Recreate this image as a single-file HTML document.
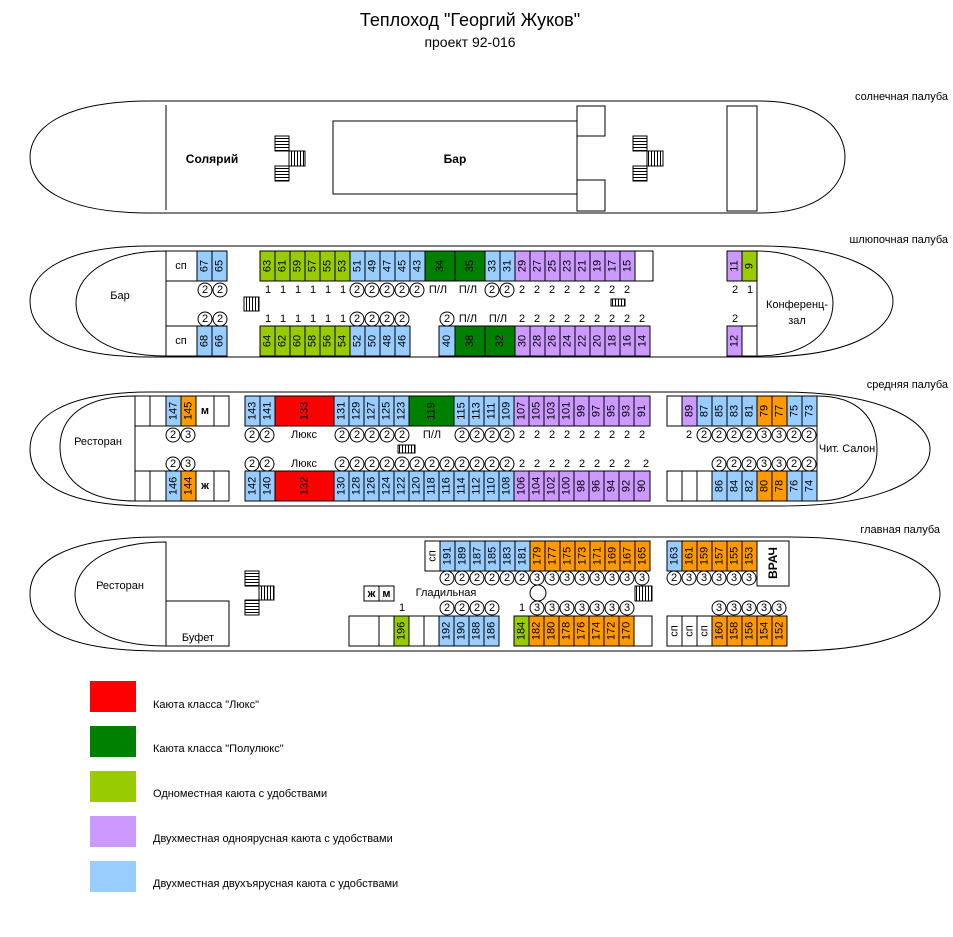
<!DOCTYPE html>
<html><head><meta charset="utf-8">
<style>
html,body{margin:0;padding:0;background:#fff;}
svg{display:block;font-family:"Liberation Sans",Arial,sans-serif;}
text{font-size:11px;text-anchor:middle;dominant-baseline:central;fill:#000;}
rect{stroke:#000;stroke-width:1;}
.b{fill:#99ccff}.p{fill:#cc99ff}.o{fill:#ff9900}.g{fill:#99cc00}.dg{fill:#008000}.r{fill:#ff0000}.w{fill:#fff}
.nl{stroke:none}
circle{fill:#fff;stroke:#000;stroke-width:1}
path,line{fill:none;stroke:#000;stroke-width:1}
.lt{text-anchor:end}
.bd{font-weight:bold}
</style></head><body>
<svg width="953" height="937" viewBox="0 0 953 937" xmlns="http://www.w3.org/2000/svg">
<defs>
<pattern id="hl" width="4" height="3" patternUnits="userSpaceOnUse"><line x1="0" y1="0.5" x2="4" y2="0.5"/></pattern>
<pattern id="vl" width="3" height="4" patternUnits="userSpaceOnUse"><line x1="0.5" y1="0" x2="0.5" y2="4"/></pattern>
</defs>
<rect x="0" y="0" width="953" height="937" fill="#fff" style="stroke:none"/>
<text x="470" y="20" style="font-size:18px">Теплоход "Георгий Жуков"</text>
<text x="470" y="42" style="font-size:14px">проект 92-016</text>

<text class="lt" x="948" y="97">солнечная палуба</text>
<text class="lt" x="948" y="240">шлюпочная палуба</text>
<text class="lt" x="948" y="385">средняя палуба</text>
<text class="lt" x="940" y="530">главная палуба</text>

<!-- SUN DECK -->
<path d="M150,101 L760,101 C820,101 845,130 845,157 C845,185 820,213 760,213 L150,213 C60,213 30,185 30,157 C30,130 60,101 150,101 Z"/>
<line x1="166" y1="105" x2="166" y2="210"/>
<rect class="w" x="333" y="121" width="244" height="73"/>
<rect class="w" x="577" y="106" width="28" height="30"/>
<rect class="w" x="577" y="180" width="28" height="31"/>
<line x1="577" y1="106" x2="577" y2="211"/>
<rect class="w" x="727" y="106" width="30" height="105"/>
<rect x="275" y="136" width="14" height="15" fill="url(#hl)"/>
<rect x="289" y="151" width="16" height="15" fill="url(#vl)"/>
<rect x="275" y="166" width="14" height="15" fill="url(#hl)"/>
<rect x="633" y="136" width="14" height="15" fill="url(#hl)"/>
<rect x="647" y="151" width="16" height="15" fill="url(#vl)"/>
<rect x="633" y="166" width="14" height="15" fill="url(#hl)"/>
<text x="212" y="159" class="bd" style="font-size:12px">Солярий</text>
<text x="455" y="159" class="bd" style="font-size:12px">Бар</text>

<!-- DECK 2 -->
<path d="M150,246 L760,246 C850,246 893,275 893,301 C893,330 850,357 760,357 L150,357 C60,357 30,330 30,301 C30,275 60,246 150,246 Z"/>
<path d="M166,251 C100,251 76,280 76,303 C76,328 100,356 166,356 Z"/>
<path d="M757,251 C810,251 833,280 833,303 C833,330 810,356 757,356"/>
<text x="120" y="296">Бар</text>
<text x="797" y="305">Конференц-</text>
<text x="797" y="321">зал</text>
<rect class="w" x="166" y="251" width="31" height="30"/><text x="181" y="266">сп</text>
<rect class="w" x="166" y="326" width="31" height="30"/><text x="181" y="341">сп</text>
<g>
<rect class="b" x="197" y="251" width="15" height="30"/><text transform="translate(204.5,266) rotate(-90)">67</text>
<rect class="b" x="212" y="251" width="15" height="30"/><text transform="translate(219.5,266) rotate(-90)">65</text>
<rect class="g" x="260" y="251" width="15" height="30"/><text transform="translate(267.5,266) rotate(-90)">63</text>
<rect class="g" x="275" y="251" width="15" height="30"/><text transform="translate(282.5,266) rotate(-90)">61</text>
<rect class="g" x="290" y="251" width="15" height="30"/><text transform="translate(297.5,266) rotate(-90)">59</text>
<rect class="g" x="305" y="251" width="15" height="30"/><text transform="translate(312.5,266) rotate(-90)">57</text>
<rect class="g" x="320" y="251" width="15" height="30"/><text transform="translate(327.5,266) rotate(-90)">55</text>
<rect class="g" x="335" y="251" width="15" height="30"/><text transform="translate(342.5,266) rotate(-90)">53</text>
<rect class="b" x="350" y="251" width="15" height="30"/><text transform="translate(357.5,266) rotate(-90)">51</text>
<rect class="b" x="365" y="251" width="15" height="30"/><text transform="translate(372.5,266) rotate(-90)">49</text>
<rect class="b" x="380" y="251" width="15" height="30"/><text transform="translate(387.5,266) rotate(-90)">47</text>
<rect class="b" x="395" y="251" width="15" height="30"/><text transform="translate(402.5,266) rotate(-90)">45</text>
<rect class="b" x="410" y="251" width="15" height="30"/><text transform="translate(417.5,266) rotate(-90)">43</text>
<rect class="dg" x="425" y="251" width="30" height="30"/><text transform="translate(440,266) rotate(-90)">34</text>
<rect class="dg" x="455" y="251" width="30" height="30"/><text transform="translate(470,266) rotate(-90)">35</text>
<rect class="b" x="485" y="251" width="15" height="30"/><text transform="translate(492.5,266) rotate(-90)">33</text>
<rect class="b" x="500" y="251" width="15" height="30"/><text transform="translate(507.5,266) rotate(-90)">31</text>
<rect class="p" x="515" y="251" width="15" height="30"/><text transform="translate(522.5,266) rotate(-90)">29</text>
<rect class="p" x="530" y="251" width="15" height="30"/><text transform="translate(537.5,266) rotate(-90)">27</text>
<rect class="p" x="545" y="251" width="15" height="30"/><text transform="translate(552.5,266) rotate(-90)">25</text>
<rect class="p" x="560" y="251" width="15" height="30"/><text transform="translate(567.5,266) rotate(-90)">23</text>
<rect class="p" x="575" y="251" width="15" height="30"/><text transform="translate(582.5,266) rotate(-90)">21</text>
<rect class="p" x="590" y="251" width="15" height="30"/><text transform="translate(597.5,266) rotate(-90)">19</text>
<rect class="p" x="605" y="251" width="15" height="30"/><text transform="translate(612.5,266) rotate(-90)">17</text>
<rect class="p" x="620" y="251" width="15" height="30"/><text transform="translate(627.5,266) rotate(-90)">15</text>
<rect class="w" x="635" y="251" width="18" height="30"/>
<rect class="p" x="727" y="251" width="15" height="30"/><text transform="translate(734.5,266) rotate(-90)">11</text>
<rect class="g" x="742" y="251" width="15" height="30"/><text transform="translate(749.5,266) rotate(-90)">9</text>

<rect class="b" x="197" y="326" width="15" height="30"/><text transform="translate(204.5,341) rotate(-90)">68</text>
<rect class="b" x="212" y="326" width="15" height="30"/><text transform="translate(219.5,341) rotate(-90)">66</text>
<rect class="g" x="260" y="326" width="15" height="30"/><text transform="translate(267.5,341) rotate(-90)">64</text>
<rect class="g" x="275" y="326" width="15" height="30"/><text transform="translate(282.5,341) rotate(-90)">62</text>
<rect class="g" x="290" y="326" width="15" height="30"/><text transform="translate(297.5,341) rotate(-90)">60</text>
<rect class="g" x="305" y="326" width="15" height="30"/><text transform="translate(312.5,341) rotate(-90)">58</text>
<rect class="g" x="320" y="326" width="15" height="30"/><text transform="translate(327.5,341) rotate(-90)">56</text>
<rect class="g" x="335" y="326" width="15" height="30"/><text transform="translate(342.5,341) rotate(-90)">54</text>
<rect class="b" x="350" y="326" width="15" height="30"/><text transform="translate(357.5,341) rotate(-90)">52</text>
<rect class="b" x="365" y="326" width="15" height="30"/><text transform="translate(372.5,341) rotate(-90)">50</text>
<rect class="b" x="380" y="326" width="15" height="30"/><text transform="translate(387.5,341) rotate(-90)">48</text>
<rect class="b" x="395" y="326" width="15" height="30"/><text transform="translate(402.5,341) rotate(-90)">46</text>
<rect class="b" x="439" y="326" width="16" height="30"/><text transform="translate(447,341) rotate(-90)">40</text>
<rect class="dg" x="455" y="326" width="30" height="30"/><text transform="translate(470,341) rotate(-90)">38</text>
<rect class="dg" x="485" y="326" width="30" height="30"/><text transform="translate(500,341) rotate(-90)">32</text>
<rect class="p" x="515" y="326" width="15" height="30"/><text transform="translate(522.5,341) rotate(-90)">30</text>
<rect class="p" x="530" y="326" width="15" height="30"/><text transform="translate(537.5,341) rotate(-90)">28</text>
<rect class="p" x="545" y="326" width="15" height="30"/><text transform="translate(552.5,341) rotate(-90)">26</text>
<rect class="p" x="560" y="326" width="15" height="30"/><text transform="translate(567.5,341) rotate(-90)">24</text>
<rect class="p" x="575" y="326" width="15" height="30"/><text transform="translate(582.5,341) rotate(-90)">22</text>
<rect class="p" x="590" y="326" width="15" height="30"/><text transform="translate(597.5,341) rotate(-90)">20</text>
<rect class="p" x="605" y="326" width="15" height="30"/><text transform="translate(612.5,341) rotate(-90)">18</text>
<rect class="p" x="620" y="326" width="15" height="30"/><text transform="translate(627.5,341) rotate(-90)">16</text>
<rect class="p" x="635" y="326" width="15" height="30"/><text transform="translate(642.5,341) rotate(-90)">14</text>
<rect class="p" x="727" y="326" width="15" height="30"/><text transform="translate(734.5,341) rotate(-90)">12</text>
<rect class="w" x="742" y="326" width="15" height="30"/>
</g>
<line x1="757" y1="251" x2="757" y2="356"/>
<g>
<circle cx="205" cy="290" r="7"/><text x="205" y="290">2</text>
<circle cx="220" cy="290" r="7"/><text x="220" y="290">2</text>
<text x="268" y="290">1</text><text x="283" y="290">1</text><text x="298" y="290">1</text><text x="313" y="290">1</text><text x="328" y="290">1</text><text x="343" y="290">1</text>
<circle cx="357" cy="290" r="7"/><text x="357" y="290">2</text>
<circle cx="372" cy="290" r="7"/><text x="372" y="290">2</text>
<circle cx="387" cy="290" r="7"/><text x="387" y="290">2</text>
<circle cx="402" cy="290" r="7"/><text x="402" y="290">2</text>
<circle cx="417" cy="290" r="7"/><text x="417" y="290">2</text>
<text x="438" y="290">П/Л</text><text x="468" y="290">П/Л</text>
<circle cx="492" cy="290" r="7"/><text x="492" y="290">2</text>
<circle cx="507" cy="290" r="7"/><text x="507" y="290">2</text>
<text x="522" y="290">2</text><text x="537" y="290">2</text><text x="552" y="290">2</text><text x="567" y="290">2</text><text x="582" y="290">2</text><text x="597" y="290">2</text><text x="612" y="290">2</text><text x="627" y="290">2</text>
<text x="735" y="290">2</text><text x="750" y="290">1</text>
<circle cx="205" cy="319" r="7"/><text x="205" y="319">2</text>
<circle cx="220" cy="319" r="7"/><text x="220" y="319">2</text>
<text x="268" y="319">1</text><text x="283" y="319">1</text><text x="298" y="319">1</text><text x="313" y="319">1</text><text x="328" y="319">1</text><text x="343" y="319">1</text>
<circle cx="357" cy="319" r="7"/><text x="357" y="319">2</text>
<circle cx="372" cy="319" r="7"/><text x="372" y="319">2</text>
<circle cx="387" cy="319" r="7"/><text x="387" y="319">2</text>
<circle cx="402" cy="319" r="7"/><text x="402" y="319">2</text>
<circle cx="447" cy="319" r="7"/><text x="447" y="319">2</text>
<text x="468" y="319">П/Л</text><text x="498" y="319">П/Л</text>
<text x="522" y="319">2</text><text x="537" y="319">2</text><text x="552" y="319">2</text><text x="567" y="319">2</text><text x="582" y="319">2</text><text x="597" y="319">2</text><text x="612" y="319">2</text><text x="627" y="319">2</text><text x="642" y="319">2</text>
<text x="735" y="319">2</text>
</g>
<rect x="244" y="297" width="15" height="14" fill="url(#vl)"/>
<rect x="611" y="299" width="14" height="7" fill="url(#vl)"/>

<!-- MIDDLE DECK -->
<path d="M150,392 L780,392 C880,392 930,420 930,449 C930,480 880,506 780,506 L150,506 C60,506 30,480 30,449 C30,420 60,392 150,392 Z"/>
<path d="M135,396 C80,396 60,420 60,447 C60,475 80,501 135,501 Z"/>
<path d="M817,396 C860,396 877,420 877,449 C877,478 860,501 817,501"/>
<text x="98" y="442">Ресторан</text>
<text x="847" y="449">Чит. Салон</text>
<g>
<rect class="w" x="135" y="396" width="15" height="30"/><rect class="w" x="150" y="396" width="16" height="30"/>
<rect class="b" x="166" y="396" width="15" height="30"/><text transform="translate(173.5,411) rotate(-90)">147</text>
<rect class="o" x="181" y="396" width="15" height="30"/><text transform="translate(188.5,411) rotate(-90)">145</text>
<rect class="w" x="196" y="396" width="18" height="30"/><text x="205" y="411" class="bd">м</text>
<rect class="w" x="214" y="396" width="15" height="30"/>
<rect class="w" x="135" y="471" width="15" height="30"/><rect class="w" x="150" y="471" width="16" height="30"/>
<rect class="b" x="166" y="471" width="15" height="30"/><text transform="translate(173.5,486) rotate(-90)">146</text>
<rect class="o" x="181" y="471" width="15" height="30"/><text transform="translate(188.5,486) rotate(-90)">144</text>
<rect class="w" x="196" y="471" width="18" height="30"/><text x="205" y="486" class="bd">ж</text>
<rect class="w" x="214" y="471" width="15" height="30"/>

<rect class="b" x="245" y="396" width="15" height="30"/><text transform="translate(252.5,411) rotate(-90)">143</text>
<rect class="b" x="260" y="396" width="15" height="30"/><text transform="translate(267.5,411) rotate(-90)">141</text>
<rect class="r" x="275" y="396" width="59" height="30"/><text transform="translate(304.5,411) rotate(-90)">133</text>
<rect class="b" x="334" y="396" width="15" height="30"/><text transform="translate(341.5,411) rotate(-90)">131</text>
<rect class="b" x="349" y="396" width="15" height="30"/><text transform="translate(356.5,411) rotate(-90)">129</text>
<rect class="b" x="364" y="396" width="15" height="30"/><text transform="translate(371.5,411) rotate(-90)">127</text>
<rect class="b" x="379" y="396" width="15" height="30"/><text transform="translate(386.5,411) rotate(-90)">125</text>
<rect class="b" x="394" y="396" width="15" height="30"/><text transform="translate(401.5,411) rotate(-90)">123</text>
<rect class="dg" x="409" y="396" width="45" height="30"/><text transform="translate(431.5,411) rotate(-90)">119</text>
<rect class="b" x="454" y="396" width="15" height="30"/><text transform="translate(461.5,411) rotate(-90)">115</text>
<rect class="b" x="469" y="396" width="15" height="30"/><text transform="translate(476.5,411) rotate(-90)">113</text>
<rect class="b" x="484" y="396" width="15" height="30"/><text transform="translate(491.5,411) rotate(-90)">111</text>
<rect class="b" x="499" y="396" width="15" height="30"/><text transform="translate(506.5,411) rotate(-90)">109</text>
<rect class="p" x="514" y="396" width="15" height="30"/><text transform="translate(521.5,411) rotate(-90)">107</text>
<rect class="p" x="529" y="396" width="15" height="30"/><text transform="translate(536.5,411) rotate(-90)">105</text>
<rect class="p" x="544" y="396" width="15" height="30"/><text transform="translate(551.5,411) rotate(-90)">103</text>
<rect class="p" x="559" y="396" width="15" height="30"/><text transform="translate(566.5,411) rotate(-90)">101</text>
<rect class="p" x="574" y="396" width="15" height="30"/><text transform="translate(581.5,411) rotate(-90)">99</text>
<rect class="p" x="589" y="396" width="15" height="30"/><text transform="translate(596.5,411) rotate(-90)">97</text>
<rect class="p" x="604" y="396" width="15" height="30"/><text transform="translate(611.5,411) rotate(-90)">95</text>
<rect class="p" x="619" y="396" width="15" height="30"/><text transform="translate(626.5,411) rotate(-90)">93</text>
<rect class="p" x="634" y="396" width="16" height="30"/><text transform="translate(642,411) rotate(-90)">91</text>

<rect class="b" x="245" y="471" width="15" height="30"/><text transform="translate(252.5,486) rotate(-90)">142</text>
<rect class="b" x="260" y="471" width="15" height="30"/><text transform="translate(267.5,486) rotate(-90)">140</text>
<rect class="r" x="275" y="471" width="59" height="30"/><text transform="translate(304.5,486) rotate(-90)">132</text>
<rect class="b" x="334" y="471" width="15" height="30"/><text transform="translate(341.5,486) rotate(-90)">130</text>
<rect class="b" x="349" y="471" width="15" height="30"/><text transform="translate(356.5,486) rotate(-90)">128</text>
<rect class="b" x="364" y="471" width="15" height="30"/><text transform="translate(371.5,486) rotate(-90)">126</text>
<rect class="b" x="379" y="471" width="15" height="30"/><text transform="translate(386.5,486) rotate(-90)">124</text>
<rect class="b" x="394" y="471" width="15" height="30"/><text transform="translate(401.5,486) rotate(-90)">122</text>
<rect class="b" x="409" y="471" width="15" height="30"/><text transform="translate(416.5,486) rotate(-90)">120</text>
<rect class="b" x="424" y="471" width="15" height="30"/><text transform="translate(431.5,486) rotate(-90)">118</text>
<rect class="b" x="439" y="471" width="15" height="30"/><text transform="translate(446.5,486) rotate(-90)">116</text>
<rect class="b" x="454" y="471" width="15" height="30"/><text transform="translate(461.5,486) rotate(-90)">114</text>
<rect class="b" x="469" y="471" width="15" height="30"/><text transform="translate(476.5,486) rotate(-90)">112</text>
<rect class="b" x="484" y="471" width="15" height="30"/><text transform="translate(491.5,486) rotate(-90)">110</text>
<rect class="b" x="499" y="471" width="15" height="30"/><text transform="translate(506.5,486) rotate(-90)">108</text>
<rect class="p" x="514" y="471" width="15" height="30"/><text transform="translate(521.5,486) rotate(-90)">106</text>
<rect class="p" x="529" y="471" width="15" height="30"/><text transform="translate(536.5,486) rotate(-90)">104</text>
<rect class="p" x="544" y="471" width="15" height="30"/><text transform="translate(551.5,486) rotate(-90)">102</text>
<rect class="p" x="559" y="471" width="15" height="30"/><text transform="translate(566.5,486) rotate(-90)">100</text>
<rect class="p" x="574" y="471" width="15" height="30"/><text transform="translate(581.5,486) rotate(-90)">98</text>
<rect class="p" x="589" y="471" width="15" height="30"/><text transform="translate(596.5,486) rotate(-90)">96</text>
<rect class="p" x="604" y="471" width="15" height="30"/><text transform="translate(611.5,486) rotate(-90)">94</text>
<rect class="p" x="619" y="471" width="15" height="30"/><text transform="translate(626.5,486) rotate(-90)">92</text>
<rect class="p" x="634" y="471" width="16" height="30"/><text transform="translate(642,486) rotate(-90)">90</text>

<rect class="w" x="667" y="396" width="15" height="30"/>
<rect class="p" x="682" y="396" width="15" height="30"/><text transform="translate(689.5,411) rotate(-90)">89</text>
<rect class="b" x="697" y="396" width="15" height="30"/><text transform="translate(704.5,411) rotate(-90)">87</text>
<rect class="b" x="712" y="396" width="15" height="30"/><text transform="translate(719.5,411) rotate(-90)">85</text>
<rect class="b" x="727" y="396" width="15" height="30"/><text transform="translate(734.5,411) rotate(-90)">83</text>
<rect class="b" x="742" y="396" width="15" height="30"/><text transform="translate(749.5,411) rotate(-90)">81</text>
<rect class="o" x="757" y="396" width="15" height="30"/><text transform="translate(764.5,411) rotate(-90)">79</text>
<rect class="o" x="772" y="396" width="15" height="30"/><text transform="translate(779.5,411) rotate(-90)">77</text>
<rect class="b" x="787" y="396" width="15" height="30"/><text transform="translate(794.5,411) rotate(-90)">75</text>
<rect class="b" x="802" y="396" width="15" height="30"/><text transform="translate(809.5,411) rotate(-90)">73</text>
<rect class="w" x="667" y="471" width="15" height="30"/>
<rect class="w" x="682" y="471" width="15" height="30"/>
<rect class="w" x="697" y="471" width="15" height="30"/>
<rect class="b" x="712" y="471" width="15" height="30"/><text transform="translate(719.5,486) rotate(-90)">86</text>
<rect class="b" x="727" y="471" width="15" height="30"/><text transform="translate(734.5,486) rotate(-90)">84</text>
<rect class="b" x="742" y="471" width="15" height="30"/><text transform="translate(749.5,486) rotate(-90)">82</text>
<rect class="o" x="757" y="471" width="15" height="30"/><text transform="translate(764.5,486) rotate(-90)">80</text>
<rect class="o" x="772" y="471" width="15" height="30"/><text transform="translate(779.5,486) rotate(-90)">78</text>
<rect class="b" x="787" y="471" width="15" height="30"/><text transform="translate(794.5,486) rotate(-90)">76</text>
<rect class="b" x="802" y="471" width="15" height="30"/><text transform="translate(809.5,486) rotate(-90)">74</text>
</g>
<line x1="817" y1="396" x2="817" y2="501"/>
<g>
<circle cx="173" cy="435" r="7"/><text x="173" y="435">2</text>
<circle cx="188" cy="435" r="7"/><text x="188" y="435">3</text>
<circle cx="252" cy="435" r="7"/><text x="252" y="435">2</text>
<circle cx="267" cy="435" r="7"/><text x="267" y="435">2</text>
<text x="304" y="435">Люкс</text>
<circle cx="342" cy="435" r="7"/><text x="342" y="435">2</text>
<circle cx="357" cy="435" r="7"/><text x="357" y="435">2</text>
<circle cx="372" cy="435" r="7"/><text x="372" y="435">2</text>
<circle cx="387" cy="435" r="7"/><text x="387" y="435">2</text>
<circle cx="402" cy="435" r="7"/><text x="402" y="435">2</text>
<text x="432" y="435">П/Л</text>
<circle cx="462" cy="435" r="7"/><text x="462" y="435">2</text>
<circle cx="477" cy="435" r="7"/><text x="477" y="435">2</text>
<circle cx="492" cy="435" r="7"/><text x="492" y="435">2</text>
<circle cx="507" cy="435" r="7"/><text x="507" y="435">2</text>
<text x="522" y="435">2</text><text x="537" y="435">2</text><text x="552" y="435">2</text><text x="567" y="435">2</text><text x="582" y="435">2</text><text x="597" y="435">2</text><text x="612" y="435">2</text><text x="627" y="435">2</text><text x="642" y="435">2</text>
<text x="689" y="435">2</text>
<circle cx="704" cy="435" r="7"/><text x="704" y="435">2</text>
<circle cx="719" cy="435" r="7"/><text x="719" y="435">2</text>
<circle cx="734" cy="435" r="7"/><text x="734" y="435">2</text>
<circle cx="749" cy="435" r="7"/><text x="749" y="435">2</text>
<circle cx="764" cy="435" r="7"/><text x="764" y="435">3</text>
<circle cx="779" cy="435" r="7"/><text x="779" y="435">3</text>
<circle cx="794" cy="435" r="7"/><text x="794" y="435">2</text>
<circle cx="809" cy="435" r="7"/><text x="809" y="435">2</text>

<circle cx="173" cy="464" r="7"/><text x="173" y="464">2</text>
<circle cx="188" cy="464" r="7"/><text x="188" y="464">3</text>
<circle cx="252" cy="464" r="7"/><text x="252" y="464">2</text>
<circle cx="267" cy="464" r="7"/><text x="267" y="464">2</text>
<text x="304" y="464">Люкс</text>
<circle cx="342" cy="464" r="7"/><text x="342" y="464">2</text>
<circle cx="357" cy="464" r="7"/><text x="357" y="464">2</text>
<circle cx="372" cy="464" r="7"/><text x="372" y="464">2</text>
<circle cx="387" cy="464" r="7"/><text x="387" y="464">2</text>
<circle cx="402" cy="464" r="7"/><text x="402" y="464">2</text>
<circle cx="417" cy="464" r="7"/><text x="417" y="464">2</text>
<circle cx="432" cy="464" r="7"/><text x="432" y="464">2</text>
<circle cx="447" cy="464" r="7"/><text x="447" y="464">2</text>
<circle cx="462" cy="464" r="7"/><text x="462" y="464">2</text>
<circle cx="477" cy="464" r="7"/><text x="477" y="464">2</text>
<circle cx="492" cy="464" r="7"/><text x="492" y="464">2</text>
<circle cx="507" cy="464" r="7"/><text x="507" y="464">2</text>
<text x="522" y="464">2</text><text x="537" y="464">2</text><text x="552" y="464">2</text><text x="567" y="464">2</text><text x="582" y="464">2</text><text x="597" y="464">2</text><text x="612" y="464">2</text><text x="627" y="464">2</text><text x="646" y="464">2</text>
<circle cx="719" cy="464" r="7"/><text x="719" y="464">2</text>
<circle cx="734" cy="464" r="7"/><text x="734" y="464">2</text>
<circle cx="749" cy="464" r="7"/><text x="749" y="464">2</text>
<circle cx="764" cy="464" r="7"/><text x="764" y="464">3</text>
<circle cx="779" cy="464" r="7"/><text x="779" y="464">3</text>
<circle cx="794" cy="464" r="7"/><text x="794" y="464">2</text>
<circle cx="809" cy="464" r="7"/><text x="809" y="464">2</text>
</g>
<rect x="398" y="445" width="17" height="8" fill="url(#vl)"/>

<!-- MAIN DECK -->
<path d="M160,537 L790,537 C890,537 940,565 940,594 C940,625 890,651 790,651 L160,651 C60,651 30,625 30,594 C30,565 60,537 160,537 Z"/>
<path d="M166,542 C100,542 75,570 75,594 C75,620 100,646 166,646 Z"/>
<rect class="w" x="166" y="601" width="63" height="45"/>
<text x="120" y="586">Ресторан</text>
<text x="198" y="638">Буфет</text>
<rect x="245" y="571" width="14" height="15" fill="url(#hl)"/>
<rect x="259" y="586" width="15" height="14" fill="url(#vl)"/>
<rect x="245" y="600" width="14" height="15" fill="url(#hl)"/>
<g>
<rect class="w" x="425" y="541" width="15" height="30"/><text transform="translate(432.5,556) rotate(-90)">сп</text>
<rect class="b" x="440" y="541" width="15" height="30"/><text transform="translate(447.5,556) rotate(-90)">191</text>
<rect class="b" x="455" y="541" width="15" height="30"/><text transform="translate(462.5,556) rotate(-90)">189</text>
<rect class="b" x="470" y="541" width="15" height="30"/><text transform="translate(477.5,556) rotate(-90)">187</text>
<rect class="b" x="485" y="541" width="15" height="30"/><text transform="translate(492.5,556) rotate(-90)">185</text>
<rect class="b" x="500" y="541" width="15" height="30"/><text transform="translate(507.5,556) rotate(-90)">183</text>
<rect class="b" x="515" y="541" width="15" height="30"/><text transform="translate(522.5,556) rotate(-90)">181</text>
<rect class="o" x="530" y="541" width="15" height="30"/><text transform="translate(537.5,556) rotate(-90)">179</text>
<rect class="o" x="545" y="541" width="15" height="30"/><text transform="translate(552.5,556) rotate(-90)">177</text>
<rect class="o" x="560" y="541" width="15" height="30"/><text transform="translate(567.5,556) rotate(-90)">175</text>
<rect class="o" x="575" y="541" width="15" height="30"/><text transform="translate(582.5,556) rotate(-90)">173</text>
<rect class="o" x="590" y="541" width="15" height="30"/><text transform="translate(597.5,556) rotate(-90)">171</text>
<rect class="o" x="605" y="541" width="15" height="30"/><text transform="translate(612.5,556) rotate(-90)">169</text>
<rect class="o" x="620" y="541" width="15" height="30"/><text transform="translate(627.5,556) rotate(-90)">167</text>
<rect class="o" x="635" y="541" width="15" height="30"/><text transform="translate(642.5,556) rotate(-90)">165</text>
<rect class="b" x="667" y="541" width="15" height="30"/><text transform="translate(674.5,556) rotate(-90)">163</text>
<rect class="o" x="682" y="541" width="15" height="30"/><text transform="translate(689.5,556) rotate(-90)">161</text>
<rect class="o" x="697" y="541" width="15" height="30"/><text transform="translate(704.5,556) rotate(-90)">159</text>
<rect class="o" x="712" y="541" width="15" height="30"/><text transform="translate(719.5,556) rotate(-90)">157</text>
<rect class="o" x="727" y="541" width="15" height="30"/><text transform="translate(734.5,556) rotate(-90)">155</text>
<rect class="o" x="742" y="541" width="15" height="30"/><text transform="translate(749.5,556) rotate(-90)">153</text>
<rect class="w" x="757" y="541" width="32" height="45"/><text transform="translate(773,563) rotate(-90)" class="bd" style="font-size:12px">ВРАЧ</text>

<rect class="w" x="349" y="616" width="30" height="30"/>
<rect class="w" x="379" y="616" width="15" height="30"/>
<rect class="g" x="394" y="616" width="15" height="30"/><text transform="translate(401.5,631) rotate(-90)">196</text>
<rect class="w" x="409" y="616" width="15" height="30"/>
<rect class="w" x="424" y="616" width="15" height="30"/>
<rect class="b" x="439" y="616" width="15" height="30"/><text transform="translate(446.5,631) rotate(-90)">192</text>
<rect class="b" x="454" y="616" width="15" height="30"/><text transform="translate(461.5,631) rotate(-90)">190</text>
<rect class="b" x="469" y="616" width="15" height="30"/><text transform="translate(476.5,631) rotate(-90)">188</text>
<rect class="b" x="484" y="616" width="15" height="30"/><text transform="translate(491.5,631) rotate(-90)">186</text>
<rect class="g" x="514" y="616" width="15" height="30"/><text transform="translate(521.5,631) rotate(-90)">184</text>
<rect class="o" x="529" y="616" width="15" height="30"/><text transform="translate(536.5,631) rotate(-90)">182</text>
<rect class="o" x="544" y="616" width="15" height="30"/><text transform="translate(551.5,631) rotate(-90)">180</text>
<rect class="o" x="559" y="616" width="15" height="30"/><text transform="translate(566.5,631) rotate(-90)">178</text>
<rect class="o" x="574" y="616" width="15" height="30"/><text transform="translate(581.5,631) rotate(-90)">176</text>
<rect class="o" x="589" y="616" width="15" height="30"/><text transform="translate(596.5,631) rotate(-90)">174</text>
<rect class="o" x="604" y="616" width="15" height="30"/><text transform="translate(611.5,631) rotate(-90)">172</text>
<rect class="o" x="619" y="616" width="15" height="30"/><text transform="translate(626.5,631) rotate(-90)">170</text>
<rect class="w" x="634" y="616" width="18" height="30"/>
<rect class="w" x="667" y="616" width="15" height="30"/><text transform="translate(674.5,631) rotate(-90)">сп</text>
<rect class="w" x="682" y="616" width="15" height="30"/><text transform="translate(689.5,631) rotate(-90)">сп</text>
<rect class="w" x="697" y="616" width="15" height="30"/><text transform="translate(704.5,631) rotate(-90)">сп</text>
<rect class="o" x="712" y="616" width="15" height="30"/><text transform="translate(719.5,631) rotate(-90)">160</text>
<rect class="o" x="727" y="616" width="15" height="30"/><text transform="translate(734.5,631) rotate(-90)">158</text>
<rect class="o" x="742" y="616" width="15" height="30"/><text transform="translate(749.5,631) rotate(-90)">156</text>
<rect class="o" x="757" y="616" width="15" height="30"/><text transform="translate(764.5,631) rotate(-90)">154</text>
<rect class="o" x="772" y="616" width="15" height="30"/><text transform="translate(779.5,631) rotate(-90)">152</text>

<rect class="w" x="364" y="586" width="15" height="15"/><text x="371.5" y="594" class="bd">ж</text>
<rect class="w" x="379" y="586" width="15" height="15"/><text x="386.5" y="594" class="bd">м</text>
</g>
<text x="446" y="593">Гладильная</text>
<circle cx="538" cy="593" r="8"/>
<rect x="635" y="586" width="17" height="15" fill="url(#vl)"/>
<g>
<circle cx="447" cy="578" r="7"/><text x="447" y="578">2</text>
<circle cx="462" cy="578" r="7"/><text x="462" y="578">2</text>
<circle cx="477" cy="578" r="7"/><text x="477" y="578">2</text>
<circle cx="492" cy="578" r="7"/><text x="492" y="578">2</text>
<circle cx="507" cy="578" r="7"/><text x="507" y="578">2</text>
<circle cx="522" cy="578" r="7"/><text x="522" y="578">2</text>
<circle cx="537" cy="578" r="7"/><text x="537" y="578">3</text>
<circle cx="552" cy="578" r="7"/><text x="552" y="578">3</text>
<circle cx="567" cy="578" r="7"/><text x="567" y="578">3</text>
<circle cx="582" cy="578" r="7"/><text x="582" y="578">3</text>
<circle cx="597" cy="578" r="7"/><text x="597" y="578">3</text>
<circle cx="612" cy="578" r="7"/><text x="612" y="578">3</text>
<circle cx="627" cy="578" r="7"/><text x="627" y="578">3</text>
<circle cx="642" cy="578" r="7"/><text x="642" y="578">3</text>
<circle cx="674" cy="578" r="7"/><text x="674" y="578">2</text>
<circle cx="689" cy="578" r="7"/><text x="689" y="578">3</text>
<circle cx="704" cy="578" r="7"/><text x="704" y="578">3</text>
<circle cx="719" cy="578" r="7"/><text x="719" y="578">3</text>
<circle cx="734" cy="578" r="7"/><text x="734" y="578">3</text>
<circle cx="749" cy="578" r="7"/><text x="749" y="578">3</text>

<text x="402" y="608">1</text>
<circle cx="447" cy="608" r="7"/><text x="447" y="608">2</text>
<circle cx="462" cy="608" r="7"/><text x="462" y="608">2</text>
<circle cx="477" cy="608" r="7"/><text x="477" y="608">2</text>
<circle cx="492" cy="608" r="7"/><text x="492" y="608">2</text>
<text x="522" y="608">1</text>
<circle cx="537" cy="608" r="7"/><text x="537" y="608">3</text>
<circle cx="552" cy="608" r="7"/><text x="552" y="608">3</text>
<circle cx="567" cy="608" r="7"/><text x="567" y="608">3</text>
<circle cx="582" cy="608" r="7"/><text x="582" y="608">3</text>
<circle cx="597" cy="608" r="7"/><text x="597" y="608">3</text>
<circle cx="612" cy="608" r="7"/><text x="612" y="608">3</text>
<circle cx="627" cy="608" r="7"/><text x="627" y="608">3</text>
<circle cx="719" cy="608" r="7"/><text x="719" y="608">3</text>
<circle cx="734" cy="608" r="7"/><text x="734" y="608">3</text>
<circle cx="749" cy="608" r="7"/><text x="749" y="608">3</text>
<circle cx="764" cy="608" r="7"/><text x="764" y="608">3</text>
<circle cx="779" cy="608" r="7"/><text x="779" y="608">3</text>
</g>

<!-- LEGEND -->
<rect class="r nl" x="90" y="681" width="46" height="31"/>
<rect class="dg nl" x="90" y="726" width="46" height="31"/>
<rect class="g nl" x="90" y="771" width="46" height="31"/>
<rect class="p nl" x="90" y="816" width="46" height="31"/>
<rect class="b nl" x="90" y="861" width="46" height="31"/>
<g style="font-size:11px">
<text x="153" y="705" style="text-anchor:start">Каюта класса "Люкс"</text>
<text x="153" y="749" style="text-anchor:start">Каюта класса "Полулюкс"</text>
<text x="153" y="794" style="text-anchor:start">Одноместная каюта с удобствами</text>
<text x="153" y="839" style="text-anchor:start">Двухместная одноярусная каюта с удобствами</text>
<text x="153" y="884" style="text-anchor:start">Двухместная двухъярусная каюта с удобствами</text>
</g>
</svg>
</body></html>
